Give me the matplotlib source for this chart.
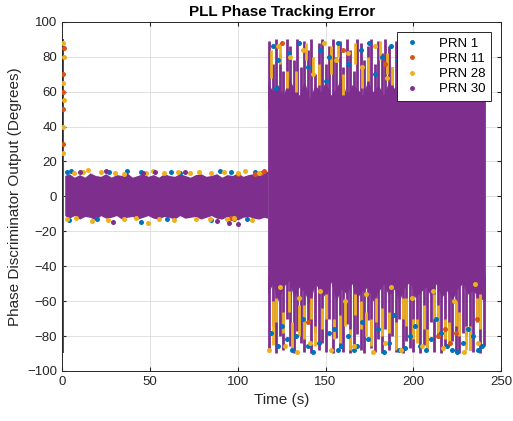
import matplotlib
matplotlib.use("Agg")
import matplotlib.pyplot as plt
from matplotlib.lines import Line2D

plt.rcParams['font.family'] = ['Liberation Sans', 'DejaVu Sans']

# MATLAB default colour order
colors = {"PRN 1": "#0072BD", "PRN 11": "#D95319", "PRN 28": "#EDB120", "PRN 30": "#7E2F8E"}
labels = ["PRN 1", "PRN 11", "PRN 28", "PRN 30"]

# --- start-up transient (t ~ 0 .. 1.2 s), full +-90 deg
spike_t = [0.0, 1.2]
spike_lo = [-90, -90]
spike_hi = [90, 90]

# --- locked period (1.5 .. 117 s): envelope of the dense band
p1_t = [1.5, 4, 7, 10, 13, 16, 19, 22, 25, 28, 31, 34, 37, 40, 43, 46, 49, 52, 55,
        58, 61, 64, 67, 70, 73, 76, 79, 82, 85, 88, 91, 94, 97, 100, 103, 106, 109,
        112, 115, 117]
p1_top = [12, 13, 11, 12.5, 11, 13.5, 12, 11.5, 13, 11, 12.5, 12, 13.5, 11, 12, 13,
          11.5, 12.5, 11, 13, 12, 11.5, 13, 12, 11, 12.5, 13, 11.5, 12, 13, 11, 12.5,
          12, 13.5, 11.5, 12.5, 13, 12.5, 14, 14.5]
p1_bot = [-11, -12.5, -11, -13, -11.5, -12, -13.5, -11, -12.5, -12, -11, -13, -12,
          -11.5, -13, -12, -11, -12.5, -13, -11.5, -12, -13, -11, -12.5, -12, -11.5,
          -13, -12, -11, -12.5, -13, -11.5, -12, -13.5, -12, -11.5, -12.5, -13, -12,
          -12.5]

# --- degraded period (117 .. 241 s): solid core envelope
p2_t = [117, 120, 123, 126, 129, 132, 135, 138, 141, 144, 147, 150, 153, 156, 159,
        162, 165, 168, 171, 174, 177, 180, 183, 186, 189, 192, 195, 198, 201, 204,
        207, 210, 213, 216, 219, 222, 225, 228, 231, 234, 237, 241]
p2_top = [66, 60, 64, 58, 68, 62, 58, 66, 56, 64, 60, 66, 58, 62, 68, 58, 64, 62, 58,
          66, 60, 64, 58, 66, 62, 66, 62, 66, 60, 68, 64, 62, 70, 60, 66, 62, 68, 64,
          60, 66, 62, 64]
p2_bot = [-56, -50, -60, -52, -48, -58, -52, -55, -62, -50, -54, -58, -49, -60, -53,
          -56, -50, -58, -54, -52, -60, -55, -50, -57, -53, -60, -52, -49, -58, -55,
          -52, -57, -50, -58, -54, -60, -53, -50, -56, -54, -58, -60]

# --- scattered points in the degraded period, seen as vertical streaks
top30_t = [118, 120, 122, 124, 126, 128, 130, 132, 134, 136, 138, 140, 142, 144, 146,
           148, 150, 152, 154, 156, 158, 160, 162, 164, 166, 168, 170, 172, 174, 176,
           178, 180, 182, 184, 186, 188, 190, 192]
top30_hi = [89, 76, 90, 82, 72, 90, 86, 78, 90, 74, 89, 84, 90, 70, 88, 90, 76, 86,
            90, 80, 89, 74, 90, 84, 72, 90, 88, 78, 86, 90, 76, 89, 82, 90, 86, 74,
            89, 84]

bot30_t = [118, 120, 122, 124, 126, 128, 130, 132, 134, 136, 138, 140, 142, 144, 146,
           148, 150, 152, 154, 156, 158, 160, 162, 164, 166, 168, 170, 172, 174, 176,
           178, 180, 182, 184, 186, 188, 190, 192, 194, 196, 198, 200, 202, 204, 206,
           208, 210, 212, 214, 216, 218, 220, 222, 224, 226, 228, 230, 232, 234, 236,
           238, 240]
bot30_lo = [-89, -74, -90, -80, -88, -70, -86, -90, -77, -84, -89, -72, -90, -78, -88,
            -84, -89, -70, -90, -81, -87, -89, -73, -90, -86, -79, -88, -90, -71, -87,
            -89, -82, -90, -76, -88, -80, -89, -70, -90, -83, -87, -89, -75, -90, -85,
            -88, -72, -89, -81, -90, -86, -74, -83, -89, -90, -78, -80, -88, -89, -72,
            -90, -86]

top28_t = [119, 124, 128, 133, 139, 143, 146, 153, 157, 160, 167, 171, 174, 181, 185, 188]
top28_lo = [68, 76, 62, 60, 78, 70, 64, 70, 80, 58, 76, 62, 66, 78, 70, 64]
top28_hi = [84, 88, 72, 72, 88, 80, 76, 86, 89, 70, 88, 74, 80, 89, 82, 74]

bot28_t = [120, 122, 126, 129, 131, 135, 138, 142, 144, 148, 150, 155, 158, 161, 164,
           167, 170, 173, 176, 179, 182, 186, 190, 194, 196, 200, 202, 206, 208, 212,
           214, 218, 220, 224, 226, 230, 232, 236, 238]
bot28_lo = [-85, -72, -78, -66, -88, -80, -82, -70, -86, -76, -70, -82, -84, -74, -88,
            -68, -76, -80, -86, -72, -80, -78, -88, -70, -74, -82, -84, -76, -88, -70,
            -78, -82, -86, -74, -80, -88, -88, -72, -76]
bot28_hi = [-60, -58, -66, -54, -72, -62, -62, -58, -74, -64, -56, -70, -68, -60, -76,
            -56, -60, -66, -70, -58, -64, -66, -72, -58, -58, -70, -70, -62, -76, -56,
            -62, -70, -72, -60, -66, -74, -74, -58, -56]

# --- individual points on the band edges and in the fringes (t, y)
dot_t = {
    "PRN 1": [3, 5, 27, 37, 45, 62, 67, 90, 96, 110, 4, 20, 45, 60, 85, 105,
              120, 123, 129, 135, 140, 147, 152, 157, 163, 170, 175, 182, 187, 191,
              122, 150, 178,
              119, 123, 128, 133, 140, 146, 152, 157, 163, 168, 174, 180, 186, 192,
              198, 204, 210, 216, 222, 228, 234, 239, 125, 137, 155, 171, 189, 201,
              213, 231, 131, 143, 159, 166, 183, 195, 207, 219, 225, 237],
    "PRN 11": [96, 98, 110, 115, 113, 100, 0.5, 0.8, 0.4, 0.9, 0.6,
               125, 160, 184, 214, 218, 221, 224, 236, 140],
    "PRN 28": [7, 12, 15, 22, 30, 35, 48, 52, 58, 66, 73, 78, 85, 92, 100, 104, 112,
               3, 8, 17, 26, 35, 42, 49, 55, 64, 76, 84, 94, 98, 108,
               0.3, 0.7, 1.0, 0.5, 0.9, 0.6,
               123, 130, 137, 143, 149, 156, 163, 171, 178, 185,
               124, 135, 147, 161, 173, 187, 199, 211, 223, 235,
               118, 127, 134, 141, 153, 166, 177, 184, 193, 205, 217, 229, 237],
    "PRN 30": [10, 25, 46, 53, 70, 95, 100, 29, 88],
}
dot_y = {
    "PRN 1": [14, 14.5, 14, 14.5, 14, 14, 13.5, 14.5, 14, 14, -13.5, -13, -14.5, -13,
              -13.5, -13,
              86, 78, 82, 88, 74, 84, 80, 88, 76, 84, 88, 80, 86, 78,
              62, 66, 70,
              -78, -86, -82, -80, -86, -84, -78, -88, -80, -86, -82, -76, -84, -88,
              -80, -86, -82, -78, -88, -84, -80, -86, -74, -70, -76, -72, -68, -74,
              -70, -76, -88, -89, -86, -88, -89, -87, -88, -86, -89, -88],
    "PRN 11": [-12.5, -13, 13, 14.5, 13.5, 13, 30, 50, 70, 85, 60,
               88, 84, 76, -80, -76, -84, -78, -70, -72],
    "PRN 28": [13.5, 14, 15, 14, 13.5, 13, 13.5, 14.5, 13.5, 14, 13.5, 14, 13.5, 14,
               13.5, 14.5, 13.5,
               -13, -12.5, -14, -13.5, -13, -12.5, -15.5, -13, -13.5, -13, -13, -13,
               -12.5, -13.5,
               25, 40, 55, 65, 80, 88,
               86, 80, 84, 70, 88, 78, 82, 74, 86, 68,
               -52, -58, -54, -60, -56, -52, -58, -54, -60, -50,
               -88, -86, -89, -84, -88, -86, -89, -84, -88, -86, -87, -89, -84],
    "PRN 30": [14, 14.5, 13.5, 14, 14, -15, -16, -14.5, -14],
}

fig = plt.figure(figsize=(5.13, 4.21), dpi=100)
ax = fig.add_axes([0.121, 0.119, 0.856, 0.829])

purple = colors["PRN 30"]
yellow = colors["PRN 28"]
ax.fill_between(spike_t, spike_lo, spike_hi, color=purple, lw=0, zorder=2)
ax.fill_between(p1_t, p1_bot, p1_top, color=purple, lw=0, zorder=2)
ax.fill_between(p2_t, p2_bot, p2_top, color=purple, lw=0, zorder=2)

# purple columns grow out of the solid core into the fringes
ax.vlines(top30_t, 50, top30_hi, color=purple, lw=2.0, zorder=3)
ax.vlines(bot30_t, bot30_lo, -45, color=purple, lw=2.0, zorder=3)
ax.vlines(top28_t, top28_lo, top28_hi, color=yellow, lw=2.0, zorder=4)
ax.vlines(bot28_t, bot28_lo, bot28_hi, color=yellow, lw=2.0, zorder=4)

for name in labels:
    ax.scatter(dot_t[name], dot_y[name], s=13, color=colors[name], lw=0, zorder=5)

ax.set_xlim(0, 250)
ax.set_ylim(-100, 100)
ax.set_xticks(range(0, 251, 50))
ax.set_yticks(range(-100, 101, 20))
ax.grid(True, color="#dcdcdc", lw=0.6)
ax.set_axisbelow(True)
ax.tick_params(direction="in", labelsize=9.5, colors="#262626", length=3,
               top=True, right=True)
for sp in ax.spines.values():
    sp.set_color("#262626")
    sp.set_linewidth(0.7)

ax.set_xlabel("Time (s)", fontsize=11, color="#262626")
ax.set_ylabel("Phase Discriminator Output (Degrees)", fontsize=11, color="#262626")
ax.set_title("PLL Phase Tracking Error", fontsize=11, fontweight="bold", pad=4)

handles = [Line2D([], [], ls="none", marker=".", ms=5, color=colors[n]) for n in labels]
leg = ax.legend(handles, labels, loc="upper right", fontsize=9.5, frameon=True,
                fancybox=False, edgecolor="#262626", framealpha=1,
                borderaxespad=0.8, borderpad=0.4, handlelength=1.5,
                handletextpad=1.3, labelspacing=0.22)
leg.get_frame().set_linewidth(0.7)

fig.savefig("out.png", dpi=100)
